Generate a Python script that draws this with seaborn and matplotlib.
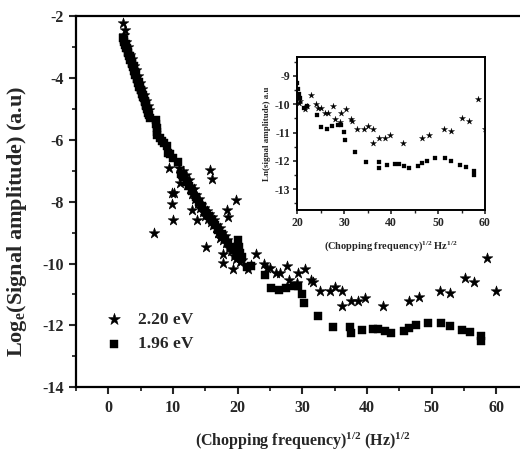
import numpy as np
import pandas as pd
import matplotlib
matplotlib.use("Agg")
import matplotlib.pyplot as plt
import seaborn as sns
from matplotlib.ticker import MultipleLocator

# ---------------- data ----------------
star_x = [2.3, 2.6, 2.5, 2.8, 3.1, 3.4, 3.7, 4.0, 4.3, 4.6, 4.9, 5.2, 5.5, 5.8, 6.1, 6.3,
          7.06, 9.43, 9.8, 10.1, 9.8, 10.05, 11.1, 15.7, 16.0, 19.7, 12.9, 13.7, 17.3, 18.3, 18.5,
          11.0, 11.3, 11.5, 11.8, 12.0, 12.2, 12.4, 12.6, 12.8, 13.0, 13.2, 13.4, 13.6, 13.8,
          14.0, 14.2, 14.4, 14.6, 14.8, 15.0, 15.2, 15.4, 15.6, 15.8, 16.0, 16.2, 16.4, 16.6,
          16.8, 17.0, 17.2, 17.4, 17.6, 17.8, 18.0, 18.2, 18.4, 18.6, 18.8, 19.0, 19.2, 19.4,
          19.6, 19.8, 20.0, 20.3, 20.6,
          15.1, 17.7, 17.7, 19.3, 21.6, 22.0, 22.9, 24.0, 24.5, 25.0, 25.9, 26.5, 27.7, 28.0,
          29.1, 29.4, 30.4, 31.4, 31.6, 32.8, 34.3, 35.0, 36.2, 36.1, 37.5, 38.6, 39.7, 42.5,
          46.5, 48.1, 51.2, 52.8, 55.2, 56.6, 58.5, 59.9]
star_y = [-2.24, -2.45, -2.60, -2.85, -3.00, -3.25, -3.40, -3.62, -3.75, -3.95, -4.15, -4.35,
          -4.55, -4.75, -4.90, -5.05,
          -9.02, -6.92, -7.73, -7.73, -8.08, -8.60, -7.40, -6.98, -7.28, -7.95, -8.27, -8.60,
          -9.19, -8.27, -8.49,
          -6.90, -7.10, -7.00, -7.30, -7.15, -7.45, -7.30, -7.60, -7.50, -7.75, -7.60, -7.90,
          -7.80, -8.05, -7.90, -8.20, -8.10, -8.35, -8.20, -8.45, -8.30, -8.55, -8.40, -8.65,
          -8.50, -8.75, -8.60, -8.85, -8.75, -9.00, -8.85, -9.10, -9.00, -9.25, -9.10, -9.35,
          -9.25, -9.50, -9.40, -9.60, -9.50, -9.75, -9.65, -9.85, -9.75, -9.95, -9.90,
          -9.48, -9.69, -9.99, -10.18, -10.18, -10.05, -9.69, -10.00, -10.15, -10.13, -10.30,
          -10.30, -10.08, -10.53, -10.64, -10.30, -10.16, -10.53, -10.60, -10.88, -10.88,
          -10.77, -10.89, -11.37, -11.21, -11.21, -11.10, -11.37, -11.21, -11.09, -10.88,
          -10.96, -10.48, -10.61, -9.81, -10.89]

square_x = [2.3, 2.4, 2.5, 2.6, 2.7, 2.8, 2.9, 3.0, 3.1, 3.2, 3.3, 3.4, 3.5, 3.6, 3.7, 3.8,
            3.9, 4.0, 4.1, 4.2, 4.3, 4.4, 4.5, 4.6, 4.7, 4.8, 4.9, 5.0, 5.1, 5.2, 5.3, 5.4,
            5.5, 5.6, 5.7, 5.8, 5.9, 6.0, 6.1, 6.2, 6.3, 6.4,
            7.3, 7.4, 7.5, 7.6, 7.5, 8.0, 8.3, 8.6, 9.0, 9.3, 9.5, 10.0, 10.7,
            11.2, 11.6, 12.1, 12.5, 13.0, 13.5, 14.0, 14.5, 15.0, 15.5, 16.0, 16.5, 17.0, 17.5,
            18.0, 18.5, 19.0, 19.5, 20.0, 20.2, 20.4, 20.6, 21.5, 22.0,
            24.2, 25.1, 26.4, 27.4, 28.7, 29.3, 29.9, 30.2, 32.4, 34.7, 37.4, 37.5, 39.2, 40.9,
            41.7, 42.8, 43.7, 45.7, 46.5, 47.6, 49.4, 51.5, 52.8, 54.6, 55.9, 57.6, 57.6]
square_y = [-2.70, -2.85, -2.78, -2.95, -2.92, -3.05, -3.02, -3.18, -3.15, -3.30, -3.28, -3.42,
            -3.40, -3.52, -3.55, -3.65, -3.62, -3.78, -3.80, -3.90, -3.88, -4.02, -4.05, -4.15,
            -4.12, -4.28, -4.30, -4.40, -4.38, -4.52, -4.55, -4.62, -4.65, -4.78, -4.75, -4.88,
            -4.92, -5.00, -5.05, -5.12, -5.20, -5.28,
            -5.35, -5.50, -5.62, -5.75, -5.85, -5.95, -6.05, -6.12, -6.20, -6.42, -6.47, -6.60,
            -6.72,
            -7.10, -7.20, -7.35, -7.50, -7.65, -7.85, -8.00, -8.15, -8.30, -8.45, -8.60, -8.75,
            -8.90, -9.05, -9.20, -9.35, -9.45, -9.55, -9.25, -9.45, -9.65, -9.80, -10.12, -10.08,
            -10.37, -10.80, -10.86, -10.78, -10.72, -10.72, -10.97, -11.28, -11.70, -12.04,
            -12.04, -12.26, -12.15, -12.10, -12.12, -12.17, -12.26, -12.17, -12.07, -11.99,
            -11.91, -11.91, -12.02, -12.15, -12.22, -12.34, -12.50]

star_label = "2.20 eV"
square_label = "1.96 eV"
main_xticks = [0, 10, 20, 30, 40, 50, 60]
main_yticks = [-2, -4, -6, -8, -10, -12, -14]
inset_xticks = [20, 30, 40, 50, 60]
inset_yticks = [-9, -10, -11, -12, -13]

df_star = pd.DataFrame({"x": star_x, "y": star_y})
df_sq = pd.DataFrame({"x": square_x, "y": square_y})

# ---------------- style ----------------
sns.set_style("white")
plt.rcParams["font.family"] = ["Liberation Serif", "DejaVu Serif"]
plt.rcParams["font.weight"] = "bold"
plt.rcParams["axes.labelweight"] = "bold"
plt.rcParams["axes.unicode_minus"] = False
plt.rcParams["mathtext.fontset"] = "custom"
plt.rcParams["mathtext.rm"] = "Liberation Serif:bold"
plt.rcParams["mathtext.bf"] = "Liberation Serif:bold"
plt.rcParams["mathtext.it"] = "Liberation Serif:bold"
plt.rcParams["mathtext.default"] = "bf"

fig = plt.figure(figsize=(5.2, 4.51), dpi=100)
ax = fig.add_axes([0.146, 0.1412, 0.871, 0.8233])

sns.scatterplot(data=df_star, x="x", y="y", marker="*", s=65, color="black",
                edgecolor="black", linewidth=0.4, ax=ax, label=star_label)
sns.scatterplot(data=df_sq, x="x", y="y", marker="s", s=28, color="black",
                edgecolor="black", linewidth=0.3, ax=ax, label=square_label)

ax.set_xlim(-5, 65)
ax.set_ylim(-14, -2)
ax.set_xticks(main_xticks)
ax.set_yticks(main_yticks)
ax.xaxis.set_minor_locator(MultipleLocator(5))
ax.yaxis.set_minor_locator(MultipleLocator(1))
ax.tick_params(which="major", direction="out", length=5, width=1.5, labelsize=11.5,
               bottom=True, left=True, pad=4)
ax.tick_params(which="minor", direction="out", length=3, width=1.3, bottom=True, left=True)
for lbl in ax.get_xticklabels() + ax.get_yticklabels():
    lbl.set_fontweight("bold")
for sp in ax.spines.values():
    sp.set_linewidth(1.6)
    sp.set_color("black")

ax.set_xlabel(r"(Chopping frequency)$^{1/2}$ (Hz)$^{1/2}$", fontsize=11.5, labelpad=10.5)
ax.set_ylabel(r"Log$_{e}$(Signal amplitude) (a.u)", fontsize=16)
ax.yaxis.set_label_coords(-0.104, 0.448)

leg = ax.legend(loc="upper left", bbox_to_anchor=(0.045, 0.204), frameon=False,
                prop={"family": "Liberation Serif", "weight": "bold", "size": 12.5},
                borderpad=0, borderaxespad=0, handletextpad=0.4, labelspacing=0.48,
                scatterpoints=1, markerscale=1.1)

# ---------------- inset ----------------
axi = fig.add_axes([0.5717, 0.5344, 0.361, 0.3392])
sns.scatterplot(data=df_star, x="x", y="y", marker="*", s=22, color="black",
                edgecolor="black", linewidth=0.2, ax=axi, legend=False)
sns.scatterplot(data=df_sq, x="x", y="y", marker="s", s=12, color="black",
                edgecolor="black", linewidth=0.2, ax=axi, legend=False)
axi.set_xlim(20, 60)
axi.set_ylim(-13.73, -8.34)
axi.set_xticks(inset_xticks)
axi.set_yticks(inset_yticks)
axi.xaxis.set_minor_locator(MultipleLocator(5))
axi.yaxis.set_minor_locator(MultipleLocator(0.5))
axi.tick_params(which="major", direction="out", length=3, width=1.2, labelsize=8.5,
                bottom=True, left=True, pad=2)
axi.tick_params(which="minor", direction="out", length=2, width=1.0, bottom=True, left=True)
for sp in axi.spines.values():
    sp.set_linewidth(1.4)
    sp.set_color("black")
axi.set_xlabel(r"(Chopping frequency)$^{1/2}$ Hz$^{1/2}$", fontsize=7.5, labelpad=7)
axi.set_ylabel("Ln(signal amplitude) a.u", fontsize=6.5, labelpad=3)

fig.savefig("out.png", dpi=100)
